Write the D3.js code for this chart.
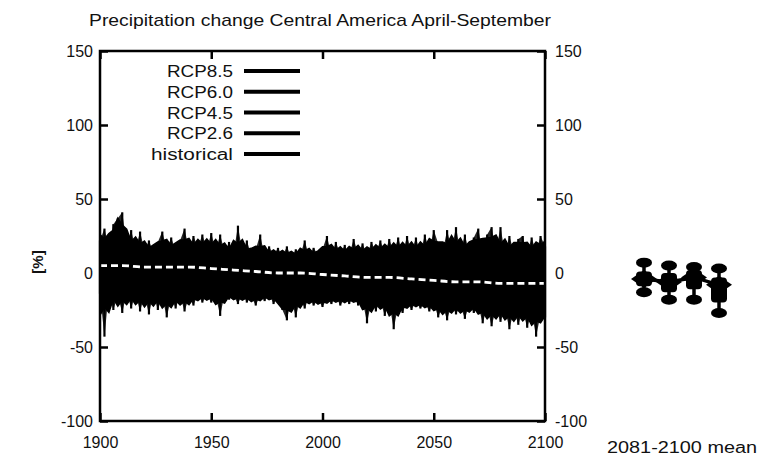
<!DOCTYPE html>
<html>
<head>
<meta charset="utf-8">
<script src="https://cdn.jsdelivr.net/npm/d3@7"></script>
<style>
  body { margin: 0; background: #fff; }
  svg { display: block; }
  text { font-family: "Liberation Sans Narrow", "Liberation Sans", Arial, sans-serif; fill: #111; }
</style>
</head>
<body>
<svg id="chart" width="759" height="463"></svg>
<script>
const title = "Precipitation change Central America April-September";
const legendLabels = ["RCP8.5", "RCP6.0", "RCP4.5", "RCP2.6", "historical"];
const yTicks = [150, 100, 50, 0, -50, -100];
const xTicks = [1900, 1950, 2000, 2050, 2100];

// ensemble envelope, every 2 years from 1900 to 2100
const years = d3.range(1900, 2101, 2);
const upper = [
  22, 30, 17, 33, 37,   41, 19, 29, 16, 28,
  15, 22, 14, 21, 28,   16, 24, 15, 22, 30,
  15, 25, 17, 26, 16,   27, 15, 26, 14, 21,
  13, 32, 14, 22, 12,   16, 26, 11, 18, 12,
  17, 11, 18, 10, 16,   12, 22, 11, 17, 12,
  16, 25, 12, 21, 13,   19, 12, 23, 13, 20,
  12, 21, 14, 22, 13,   23, 14, 24, 13, 25,
  14, 24, 13, 26, 15,   29, 20, 14, 29, 16,
  31, 14, 26, 13, 24,   30, 14, 26, 31, 15,
  31, 13, 25, 14, 23,   25, 13, 24, 14, 25,
  18
];
const lower = [
  -14, -43, -12, -25, -15,   -27, -13, -24, -14, -26,
  -15, -28, -14, -25, -16,   -30, -16, -24, -15, -26,
  -16, -22, -14, -20, -15,   -20, -15, -29, -14, -18,
  -15, -21, -14, -20, -16,   -22, -15, -19, -14, -21,
  -16, -25, -32, -17, -30,   -17, -24, -16, -22, -18,
  -23, -17, -21, -16, -22,   -17, -21, -16, -22, -18,
  -34, -19, -26, -18, -29,   -20, -38, -22, -27, -19,
  -25, -19, -24, -20, -26,   -20, -30, -22, -32, -21,
  -28, -22, -31, -21, -27,   -22, -34, -23, -36, -24,
  -33, -24, -38, -25, -35,   -25, -37, -26, -43, -28,
  -30
];

// multi-model mean (white line), every 10 years
const meanYears = d3.range(1900, 2101, 10);
const meanValues = [5, 5, 4, 4, 4, 3, 2, 1, 0, 0, -1, -2, -3, -3, -4, -5, -6, -6, -7, -7, -7];

// 2081-2100 mean boxes
const boxScenarios = ["RCP2.6", "RCP4.5", "RCP6.0", "RCP8.5"];
const boxMax  = [7, 5, 4, 3];
const boxQ3   = [1, 0, 2, -3];
const boxMean = [-4, -6, -3, -8];
const boxQ1   = [-9, -13, -11, -20];
const boxMin  = [-13, -18, -18, -27];

const svg = d3.select("#chart");
const plotLeft = 100, plotRight = 545, plotTop = 51, plotBottom = 421;
const lineW = 2.5;

const x = d3.scaleLinear().domain([1900, 2100]).range([plotLeft, plotRight]);
const y = d3.scaleLinear().domain([-100, 150]).range([plotBottom, plotTop]);

// title
svg.append("text")
  .attr("x", 320)
  .attr("y", 26)
  .attr("text-anchor", "middle")
  .attr("font-size", "17px")
  .attr("textLength", 462)
  .attr("lengthAdjust", "spacingAndGlyphs")
  .text(title);

// ensemble band: dense core (running mean of neighbours) plus spikes
const band = years.map((yr, i) => ({
  year: yr,
  hi: upper[i],
  lo: lower[i],
  coreHi: d3.mean(upper.slice(Math.max(0, i - 1), i + 2)),
  coreLo: d3.mean(lower.slice(Math.max(0, i - 1), i + 2))
}));

svg.append("path")
  .datum(band)
  .attr("d", d3.area().x(d => x(d.year)).y0(d => y(d.coreLo)).y1(d => y(d.coreHi)))
  .attr("fill", "#000")
  .attr("stroke", "#000")
  .attr("stroke-width", 1.5);

// tapered spikes
svg.append("path")
  .datum(band)
  .attr("d", d3.area().x(d => x(d.year)).y0(d => y(d.lo)).y1(d => y(d.hi)))
  .attr("fill", "#000")
  .attr("fill-opacity", 0.85);

svg.append("g")
  .selectAll("line")
  .data(band)
  .join("line")
  .attr("x1", d => x(d.year))
  .attr("x2", d => x(d.year))
  .attr("y1", d => y(d.hi))
  .attr("y2", d => y(d.lo))
  .attr("stroke", "#000")
  .attr("stroke-width", 2.2);

// mean line
svg.append("path")
  .datum(meanYears.map((yr, i) => [yr, meanValues[i]]))
  .attr("d", d3.line().x(d => x(d[0])).y(d => y(d[1])).curve(d3.curveMonotoneX))
  .attr("fill", "none")
  .attr("stroke", "#fff")
  .attr("stroke-width", 2.8)
  .attr("stroke-dasharray", "7 4");

// axes (ticks inward)
function styleAxis(g) {
  g.select(".domain").remove();
  g.selectAll(".tick line").attr("stroke", "#000").attr("stroke-width", lineW);
  g.selectAll(".tick text").attr("font-size", "16px").attr("fill", "#111");
}
const plain = d => String(d);

svg.append("g")
  .attr("transform", `translate(${plotLeft},0)`)
  .call(d3.axisLeft(y).tickValues(yTicks).tickFormat(plain).tickSize(-8).tickPadding(7))
  .call(styleAxis);

svg.append("g")
  .attr("transform", `translate(${plotRight},0)`)
  .call(d3.axisRight(y).tickValues(yTicks).tickFormat(plain).tickSize(-8).tickPadding(10))
  .call(styleAxis);

svg.append("g")
  .attr("transform", `translate(0,${plotBottom})`)
  .call(d3.axisBottom(x).tickValues(xTicks).tickFormat(plain).tickSize(-8).tickPadding(16))
  .call(styleAxis);

svg.append("g")
  .attr("transform", `translate(0,${plotTop})`)
  .call(d3.axisTop(x).tickValues(xTicks).tickFormat("").tickSize(-8))
  .call(styleAxis);

// frame
svg.append("rect")
  .attr("x", plotLeft)
  .attr("y", plotTop)
  .attr("width", plotRight - plotLeft)
  .attr("height", plotBottom - plotTop)
  .attr("fill", "none")
  .attr("stroke", "#000")
  .attr("stroke-width", lineW);

// y label
svg.append("text")
  .attr("transform", `translate(43,262) rotate(-90)`)
  .attr("text-anchor", "middle")
  .attr("font-size", "15px")
  .attr("font-weight", "bold")
  .text("[%]");

// legend
const legendY = d3.scalePoint().domain(legendLabels).range([71, 154]);
legendLabels.forEach(name => {
  svg.append("text")
    .attr("x", 233)
    .attr("y", legendY(name) + 6)
    .attr("text-anchor", "end")
    .attr("font-size", "16px")
    .attr("textLength", name === "historical" ? 82 : 66)
    .attr("lengthAdjust", "spacingAndGlyphs")
    .text(name);
  svg.append("line")
    .attr("x1", 244)
    .attr("x2", 300)
    .attr("y1", legendY(name))
    .attr("y2", legendY(name))
    .attr("stroke", "#000")
    .attr("stroke-width", 4);
});

// boxes for 2081-2100 mean
const bx = d3.scalePoint().domain(boxScenarios).range([644, 719]);

svg.append("path")
  .datum(boxScenarios.map((s, i) => [bx(s), y(boxMean[i])]))
  .attr("d", d3.line())
  .attr("fill", "none")
  .attr("stroke", "#000")
  .attr("stroke-width", 3.5);

boxScenarios.forEach((s, i) => {
  const cx = bx(s);
  svg.append("line")
    .attr("x1", cx).attr("x2", cx)
    .attr("y1", y(boxMax[i])).attr("y2", y(boxMin[i]))
    .attr("stroke", "#000").attr("stroke-width", 3.5);
  [boxMax[i], boxMin[i]].forEach(v => {
    svg.append("ellipse")
      .attr("cx", cx).attr("cy", y(v))
      .attr("rx", 8).attr("ry", 5)
      .attr("fill", "#000");
  });
  svg.append("rect")
    .attr("x", cx - 8)
    .attr("y", y(boxQ3[i]))
    .attr("width", 16)
    .attr("height", y(boxQ1[i]) - y(boxQ3[i]))
    .attr("rx", 4)
    .attr("fill", "#000");
  const my = y(boxMean[i]);
  svg.append("path")
    .attr("d", `M${cx - 13},${my} L${cx},${my - 9} L${cx + 13},${my} L${cx},${my + 9} Z`)
    .attr("fill", "#000");
});

svg.append("text")
  .attr("x", 607)
  .attr("y", 453)
  .attr("font-size", "16px")
  .attr("textLength", 150)
  .attr("lengthAdjust", "spacingAndGlyphs")
  .text("2081-2100 mean");
</script>
</body>
</html>
